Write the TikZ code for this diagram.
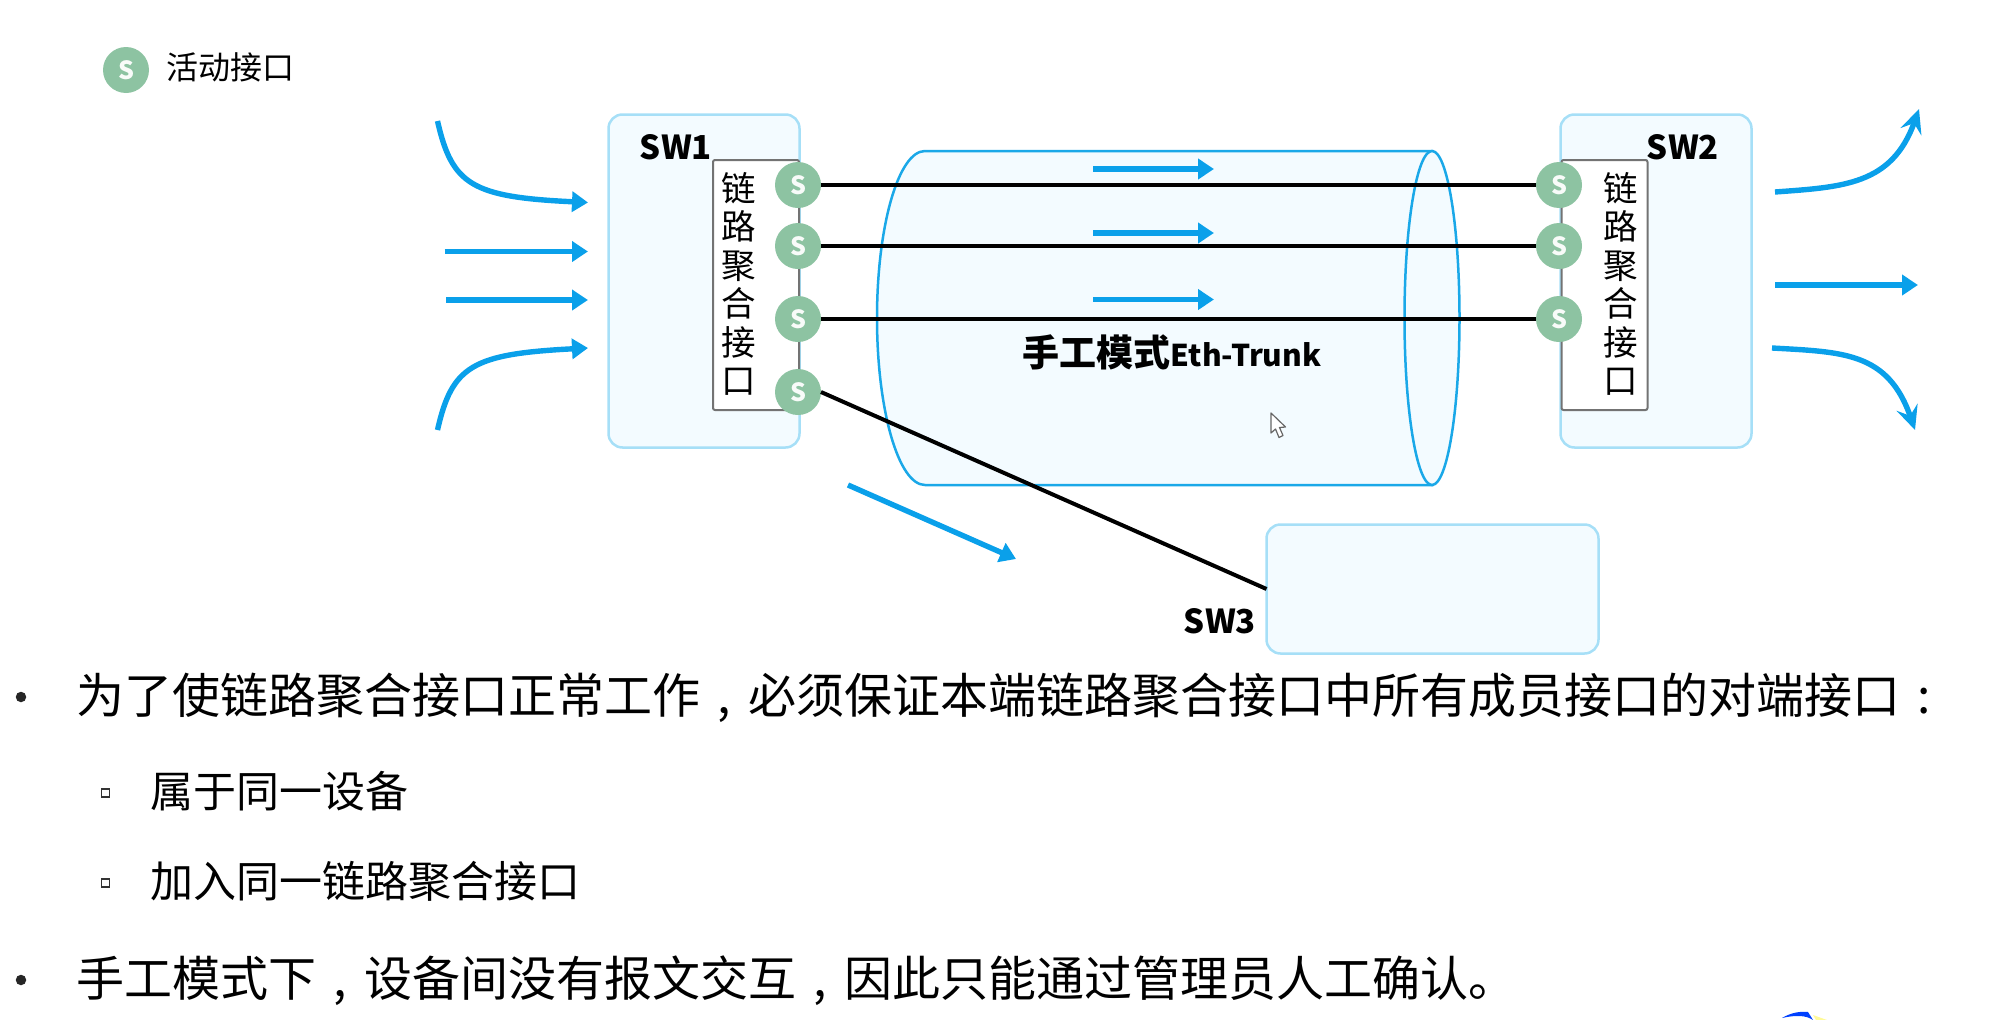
\documentclass[tikz,border=0pt]{standalone}
\usepackage{fontspec}
\usetikzlibrary{arrows.meta}
\setmainfont{Noto Sans CJK SC}
\definecolor{flow}{HTML}{0AA0EA}
\definecolor{boxline}{HTML}{A6DFF7}
\definecolor{boxfill}{HTML}{F3FBFF}
\definecolor{tubeline}{HTML}{1AA8E8}
\definecolor{port}{HTML}{8DC3A2}
\newcommand{\fs}[2]{\fontsize{#1}{#2}\selectfont}
\newcommand{\cpunct}[1]{\makebox[1em][c]{#1}}
\tikzset{
  devbox/.style={draw=boxline,fill=boxfill,line width=2.5pt,rounded corners=14pt,inner sep=0pt,outer sep=0pt,minimum width=#1},
  lagbox/.style={draw=gray!110,fill=white,line width=2pt,rounded corners=2pt,inner sep=0pt,outer sep=0pt,minimum width=86pt,minimum height=250pt},
  portnode/.style={circle,fill=port,text=white!94!port,minimum size=46pt,inner sep=0pt,outer sep=0pt,font=\fs{25}{28}\bfseries},
  lagtext/.style={align=center,inner sep=0pt,font=\fs{34.5}{38.5}},
  devlabel/.style={inner sep=0pt,font=\fs{33}{36}\bfseries},
  link/.style={black,line width=4pt},
  flowline/.style={flow,line width=5.4pt,-{Triangle[length=16pt,width=20pt]}},
  flowcurve/.style={flow,line width=5.4pt,-{Stealth[length=24pt,width=22pt,inset=9pt]}},
  bodytext/.style={anchor=west,inner sep=0pt,font=\fs{48}{52}},
  subtext/.style={anchor=west,inner sep=0pt,font=\fs{43}{47}},
  bullet/.style={circle,fill=black!85,minimum size=10.5pt,inner sep=0pt},
  subbullet/.style={draw=black!80,line width=1.5pt,minimum size=8pt,inner sep=0pt},
}
\begin{document}
\begin{tikzpicture}[x=1pt,y=-1pt]
\useasboundingbox (0,0) rectangle (2011,1020);
% legend
\node[portnode] (legend) at (126,70) {S};
\node[anchor=west,inner sep=0pt,font=\fs{32}{35}] (legendtext) at (166,67) {活动接口};
% devices
\node[devbox=191pt,minimum height=333pt] (sw1) at (704,281) {};
\node[devbox=191pt,minimum height=333pt] (sw2) at (1656,281) {};
\node[devbox=332pt,minimum height=129pt] (sw3) at (1432.5,589) {};
% tube
\draw[draw=tubeline,fill=boxfill,line width=2.5pt]
  (925,151) -- (1432,151) -- (1432,485) -- (925,485)
  .. controls (898.5,485) and (877,410.2) .. (877,318)
  .. controls (877,225.8) and (898.5,151) .. (925,151) -- cycle;
\draw[draw=tubeline,fill=boxfill,line width=2.5pt]
  (1432,151) .. controls (1447.2,151) and (1459.5,225.8) .. (1459.5,318)
  .. controls (1459.5,410.2) and (1447.2,485) .. (1432,485)
  .. controls (1416.8,485) and (1404.5,410.2) .. (1404.5,318)
  .. controls (1404.5,225.8) and (1416.8,151) .. (1432,151) -- cycle;
% aggregation interfaces
\node[lagbox] (lag1) at (756,285) {};
\node[lagbox] (lag2) at (1604.5,285) {};
\node[lagtext] (lag1text) at (738.5,284) {链\\路\\聚\\合\\接\\口};
\node[lagtext] (lag2text) at (1620.5,284) {链\\路\\聚\\合\\接\\口};
\node[devlabel] (sw1label) at (676,147) {SW1};
\node[devlabel] (sw2label) at (1683,147) {SW2};
\node[devlabel] (sw3label) at (1220,621) {SW3};
% ports
\node[portnode] (a1) at (798,185) {S};
\node[portnode] (a2) at (798,246) {S};
\node[portnode] (a3) at (798,319) {S};
\node[portnode] (a4) at (798,392) {S};
\node[portnode] (b1) at (1559,185) {S};
\node[portnode] (b2) at (1559,246) {S};
\node[portnode] (b3) at (1559,319) {S};
% links
\draw[link] (a1) -- (b1);
\draw[link] (a2) -- (b2);
\draw[link] (a3) -- (b3);
\draw[link] (a4.east) -- (sw3.west);
% flow arrows, left
\coordinate (l1s) at (437.5,121); \coordinate (l1e) at (588,202.5);
\coordinate (l2s) at (444.5,251.5); \coordinate (l2e) at (588,251.5);
\coordinate (l3s) at (446,300); \coordinate (l3e) at (588,300);
\coordinate (l4s) at (437.5,430); \coordinate (l4e) at (588,348);
\draw[flowline] (l1s) .. controls (452,185) and (472,197) .. (l1e);
\draw[flowline] (l2s) -- (l2e);
\draw[flowline] (l3s) -- (l3e);
\draw[flowline] (l4s) .. controls (452,366) and (472,354) .. (l4e);
% tube arrows
\coordinate (t1s) at (1093,169); \coordinate (t1e) at (1214,169);
\coordinate (t2s) at (1093,233); \coordinate (t2e) at (1214,233);
\coordinate (t3s) at (1093,299.5); \coordinate (t3e) at (1214,299.5);
\draw[flowline] (t1s) -- (t1e);
\draw[flowline] (t2s) -- (t2e);
\draw[flowline] (t3s) -- (t3e);
\coordinate (ds) at (848,485); \coordinate (de) at (1016,559);
\draw[flowline] (ds) -- (de);
% flow arrows, right
\coordinate (r1s) at (1775,192); \coordinate (r1e) at (1919,109);
\coordinate (r2s) at (1775,285); \coordinate (r2e) at (1918,285);
\coordinate (r3s) at (1772,348); \coordinate (r3e) at (1915,430);
\draw[flowcurve] (r1s) .. controls (1843,187) and (1892,185) .. (r1e);
\draw[flowline] (r2s) -- (r2e);
\draw[flowcurve] (r3s) .. controls (1843,352) and (1888,352) .. (r3e);
% tube caption
\node[inner sep=0pt] (caption) at (1172,352) {\fs{37}{40}\bfseries 手工模式\fs{30}{40}Eth-Trunk};
% mouse pointer
\draw[draw=black!60,fill=white,line width=1.2pt,line join=round]
  (1271,413) -- (1271,433) -- (1275.5,429) -- (1279,437.5) -- (1283,435.5) -- (1279.5,427.5) -- (1285.5,427) -- cycle;
% body text
\node[bullet] (b1dot) at (21,697) {};
\node[bodytext] (line1) at (76,698) {为了使链路聚合接口正常工作\cpunct{,}必须保证本端链路聚合接口中所有成员接口的对端接口\cpunct{:}};
\node[subbullet] (b2dot) at (105.5,793) {};
\node[subtext] (line2) at (150,791.5) {属于同一设备};
\node[subbullet] (b3dot) at (105.5,883) {};
\node[subtext] (line3) at (150,881.5) {加入同一链路聚合接口};
\node[bullet] (b4dot) at (21,980) {};
\node[bodytext] (line4) at (76,980.5) {手工模式下\cpunct{,}设备间没有报文交互\cpunct{,}因此只能通过管理员人工确认。};
% logo fragment at the edge
\fill[blue!75!cyan] (1782,1018) .. controls (1790,1013) and (1800,1011) .. (1808,1012) -- (1813,1020) .. controls (1806,1015) and (1795,1015) .. (1782,1018) -- cycle;
\fill[yellow!40] (1813,1015) -- (1827,1020) -- (1816,1020) -- cycle;
\end{tikzpicture}
\end{document}
